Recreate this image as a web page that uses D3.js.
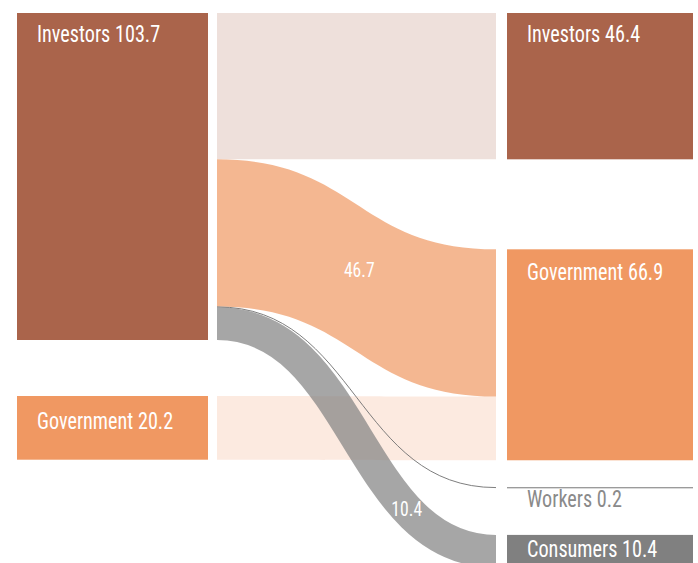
<!DOCTYPE html>
<html><head><meta charset="utf-8">
<script src="https://cdn.jsdelivr.net/npm/d3@7"></script>
<style>
body{margin:0;background:#fff}
svg{display:block}
text{font-family:"Liberation Sans Narrow","Arial Narrow","Roboto Condensed",Roboto,sans-serif}
</style>
</head><body>
<svg id="c" width="698" height="563"></svg>
<script>
// ---- data ----
const leftNodes = ["Investors", "Government"];
const leftValues = [103.7, 20.2];
const rightNodes = ["Investors", "Government", "Workers", "Consumers"];
const rightValues = [46.4, 66.9, 0.2, 10.4];
const linkSources = ["Investors", "Investors", "Investors", "Investors", "Government"];
const linkTargets = ["Investors", "Government", "Workers", "Consumers", "Government"];
const linkValues = [46.4, 46.7, 0.2, 10.4, 20.2];
const linkLabels = ["", "46.7", "", "10.4", ""];

// ---- layout ----
const svg = d3.select("#c");
const y = d3.scaleLinear().domain([0, 103.7]).range([0, 327]);
const col = d3.scalePoint().domain(["L", "R"]).range([17, 507]);
const nodeW = {L: 191, R: 186};
const linkGap = {L: 9, R: 11};
const leftGaps = [13, 56];
const rightGaps = [13, 90, 27, 47];
const colors = {Investors: "#aa644b", Government: "#f09862", Workers: "#777777", Consumers: "#808080"};
const labelDy = {L: [29, 33], R: [29, 31, 20, 22]};
const SX = 0.86;

function place(names, values, gaps, side) {
  let cur = 0;
  return names.map((n, i) => {
    cur += gaps[i];
    const h = y(values[i]);
    const node = {name: n, value: values[i], side, x0: col(side), x1: col(side) + nodeW[side], y0: cur, y1: cur + h, off: 0, ldy: labelDy[side][i]};
    cur += h;
    return node;
  });
}
const L = place(leftNodes, leftValues, leftGaps, "L");
const R = place(rightNodes, rightValues, rightGaps, "R");
const Lm = new Map(L.map(d => [d.name, d]));
const Rm = new Map(R.map(d => [d.name, d]));

const links = linkValues.map((v, i) => ({s: Lm.get(linkSources[i]), t: Rm.get(linkTargets[i]), value: v, label: linkLabels[i]}));
links.forEach(l => { const h = y(l.value); l.sy0 = l.s.y0 + l.s.off; l.sy1 = l.sy0 + h; l.s.off += h; });
links.slice().sort((a, b) => L.indexOf(a.s) - L.indexOf(b.s)).forEach(l => { const h = y(l.value); l.ty0 = l.t.y0 + l.t.off; l.ty1 = l.ty0 + h; l.t.off += h; });

function ends(l) { return [l.s.x1 + linkGap.L, l.t.x0 - linkGap.R]; }
function band(l) {
  const [x0, x1] = ends(l), xm = (x0 + x1) / 2;
  const p = d3.path();
  p.moveTo(x0, l.sy0);
  p.bezierCurveTo(xm, l.sy0, xm, l.ty0, x1, l.ty0);
  p.lineTo(x1, l.ty1);
  p.bezierCurveTo(xm, l.ty1, xm, l.sy1, x0, l.sy1);
  p.closePath();
  return p.toString();
}
function centerLine(l) {
  const [x0, x1] = ends(l);
  return d3.linkHorizontal()({source: [x0, (l.sy0 + l.sy1) / 2], target: [x1, (l.ty0 + l.ty1) / 2]});
}
function pointAt(l, f) {
  const [x0, x1] = ends(l);
  const ya = (l.sy0 + l.sy1) / 2, yb = (l.ty0 + l.ty1) / 2;
  let lo = 0, hi = 1;
  for (let k = 0; k < 40; k++) { const t = (lo + hi) / 2; const u = 1.5 * t * (1 - t) + t * t * t; if (u < f) lo = t; else hi = t; }
  const t = (lo + hi) / 2;
  const v = 3 * (1 - t) * t * t + t * t * t;
  return [x0 + (x1 - x0) * f, ya + (yb - ya) * v];
}

const gLinks = svg.append("g");
[0, 1, 4, 3, 2].map(i => links[i]).forEach(l => {
  const same = l.s.name === l.t.name;
  const h = y(l.value);
  if (h < 1) {
    gLinks.append("path").attr("d", centerLine(l)).attr("fill", "none")
      .attr("stroke", "#6f6f6f").attr("stroke-width", 0.9);
  } else if (l.t.name === "Consumers") {
    gLinks.append("path").attr("d", centerLine(l)).attr("fill", "none")
      .attr("stroke", colors[l.t.name]).attr("stroke-opacity", 0.7).attr("stroke-width", h);
  } else {
    gLinks.append("path").attr("d", band(l))
      .attr("fill", colors[l.t.name]).attr("fill-opacity", same ? 0.2 : 0.7);
  }
});

const gNodes = svg.append("g");
L.concat(R).forEach(n => {
  const h = Math.max(1, n.y1 - n.y0);
  gNodes.append("rect").attr("x", n.x0).attr("y", n.y0).attr("width", n.x1 - n.x0).attr("height", h)
    .attr("fill", colors[n.name]);
  const small = n.y1 - n.y0 < 5;
  gNodes.append("text")
    .attr("transform", `translate(${n.x0 + 20},${n.y0 + n.ldy}) scale(${SX},1)`)
    .attr("font-size", 23.5)
    .attr("fill", small ? "#8a8a8a" : "#ffffff")
    .text(`${n.name} ${n.value}`);
});

const labelPos = {"46.7": [0.51, -3], "10.4": [0.68, 7]};
links.filter(l => l.label).forEach(l => {
  const [f, dy] = labelPos[l.label];
  const [px, py] = pointAt(l, f);
  svg.append("text")
    .attr("transform", `translate(${px},${py + dy}) scale(${SX},1)`)
    .attr("text-anchor", "middle").attr("font-size", 20.5).attr("fill", "#ffffff")
    .text(l.label);
});
</script>
</body></html>
